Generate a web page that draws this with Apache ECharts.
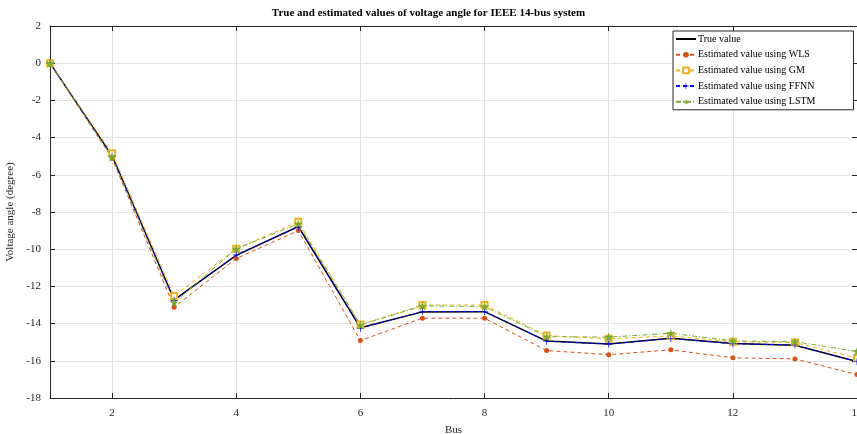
<!DOCTYPE html>
<html><head><meta charset="utf-8">
<script src="https://cdn.jsdelivr.net/npm/echarts@6/dist/echarts.min.js"></script>
<style>html,body{margin:0;padding:0;background:#fff}#c{width:857px;height:434px}</style>
</head><body><div id="c"></div>
<script>
const buses = [1,2,3,4,5,6,7,8,9,10,11,12,13,14];
const trueValue = [0,-4.98,-12.72,-10.33,-8.78,-14.22,-13.37,-13.36,-14.94,-15.10,-14.79,-15.07,-15.16,-16.04];
const wls  = [0,-5.12,-13.12,-10.50,-9.00,-14.91,-13.71,-13.71,-15.45,-15.67,-15.41,-15.84,-15.90,-16.74];
const gm   = [0,-4.84,-12.51,-9.98,-8.53,-14.05,-13.00,-13.00,-14.64,-14.82,-14.66,-14.98,-15.02,-15.86];
const ffnn = [0,-4.99,-12.75,-10.30,-8.80,-14.25,-13.35,-13.35,-14.95,-15.10,-14.80,-15.08,-15.15,-16.05];
const lstm = [0,-5.05,-12.87,-9.98,-8.64,-14.07,-13.05,-13.08,-14.70,-14.73,-14.52,-14.93,-14.97,-15.50];
const xTicks = [2,4,6,8,10,12,14];
const names = ['True value','Estimated value using WLS','Estimated value using GM','Estimated value using FFNN','Estimated value using LSTM'];

const pair = arr => buses.map((b,i)=>[b,arr[i]]);
const FONT = 'Liberation Serif';
const axisColor = '#262626';
const star = 'path://M0,-10L2.35,-3.24L9.51,-3.09L3.8,1.24L5.88,8.09L0,4L-5.88,8.09L-3.8,1.24L-9.51,-3.09L-2.35,-3.24Z';
const plus = 'path://M-1,-10L1,-10L1,-1L10,-1L10,1L1,1L1,10L-1,10L-1,1L-10,1L-10,-1L-1,-1Z';

const chart = echarts.init(document.getElementById('c'), null, {renderer:'canvas'});
const baseX = {type:'value', min:1, max:14, gridIndex:0};
chart.setOption({
  animation:false,
  backgroundColor:'#fff',
  title:{text:'True and estimated values of voltage angle for IEEE 14-bus system', left:'center', top:3,
    textStyle:{fontFamily:FONT, fontSize:11, fontWeight:'bold', color:'#000'}},
  grid:{left:50, right:0, top:26, bottom:36, show:false, outerBoundsMode:'none', containLabel:false},
  legend:{orient:'vertical', left:673, top:31, padding:[3,38,3,2], itemGap:5.7, itemWidth:20, itemHeight:7,
    backgroundColor:'#fff', borderColor:'#262626', borderWidth:1, borderRadius:0,
    textStyle:{fontFamily:FONT, fontSize:10, color:'#000', padding:[0,0,0,-3]},
    data:[{name:names[0], itemStyle:{opacity:0}}, names[1], names[2], names[3], names[4]]},
  xAxis:[
    Object.assign({}, baseX, {position:'bottom', name:'Bus', nameLocation:'middle', nameGap:27,
      nameTextStyle:{fontFamily:FONT, fontSize:11, color:axisColor},
      axisLine:{show:true, onZero:false, lineStyle:{color:axisColor, width:1}},
      axisTick:{show:true, inside:true, length:5, customValues:xTicks, lineStyle:{color:axisColor}},
      axisLabel:{customValues:xTicks, fontFamily:FONT, fontSize:11, color:axisColor, margin:10},
      splitLine:{show:true, lineStyle:{color:'#e3e3e3', width:1}}}),
    Object.assign({}, baseX, {position:'top',
      axisLine:{show:true, onZero:false, lineStyle:{color:axisColor, width:1}},
      axisTick:{show:true, inside:true, length:5, customValues:xTicks, lineStyle:{color:axisColor}},
      axisLabel:{show:false}, splitLine:{show:false}})
  ],
  yAxis:[
    {type:'value', min:-18, max:2, interval:2, position:'left', name:'Voltage angle (degree)', nameLocation:'middle', nameGap:31,
      nameTextStyle:{fontFamily:FONT, fontSize:11, color:axisColor},
      axisLine:{show:true, onZero:false, lineStyle:{color:axisColor}},
      axisTick:{show:true, inside:true, length:5, lineStyle:{color:axisColor}},
      axisLabel:{fontFamily:FONT, fontSize:11, color:axisColor, margin:9},
      splitLine:{show:true, lineStyle:{color:'#e3e3e3'}}},
    {type:'value', min:-18, max:2, interval:2, position:'right',
      axisLine:{show:true, onZero:false, lineStyle:{color:axisColor}},
      axisTick:{show:true, inside:true, length:5, lineStyle:{color:axisColor}},
      axisLabel:{show:false}, splitLine:{show:false}}
  ],
  series:[
    {name:names[0], type:'line', data:pair(trueValue), symbol:'none', showSymbol:false,
      lineStyle:{color:'#000', width:1.5}, itemStyle:{color:'#000'}},
    {name:names[1], type:'line', data:pair(wls), symbol:'circle', symbolSize:5,
      lineStyle:{color:'#D95319', width:1, type:[4,3]}, itemStyle:{color:'#D95319'}},
    {name:names[2], type:'line', data:pair(gm), symbol:'emptyRect', symbolSize:6,
      lineStyle:{color:'#EDB120', width:1, type:[4,3]}, itemStyle:{color:'#EDB120', borderWidth:1}},
    {name:names[3], type:'line', data:pair(ffnn), symbol:plus, symbolSize:7,
      lineStyle:{color:'#0000FF', width:1, type:[4,3]}, itemStyle:{color:'#0000FF'}},
    {name:names[4], type:'line', data:pair(lstm), symbol:star, symbolSize:9,
      lineStyle:{color:'#77AC30', width:1, type:[5,2,1,2]}, itemStyle:{color:'#77AC30'}}
  ]
});
</script></body></html>
